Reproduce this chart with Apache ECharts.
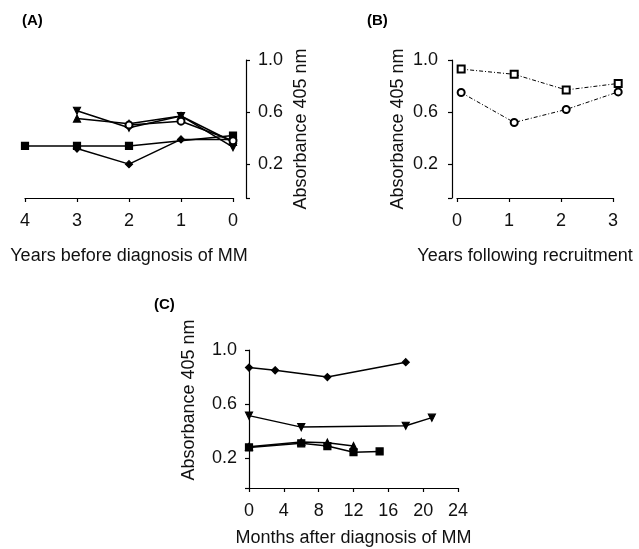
<!DOCTYPE html>
<html><head><meta charset="utf-8">
<script src="https://cdn.jsdelivr.net/npm/echarts@6/dist/echarts.min.js"></script>
<style>html,body{margin:0;padding:0;background:#fff}#c{width:639px;height:549px}</style>
</head><body><div id="c"></div>
<script>
// Panel A: years before diagnosis of MM
const aTicks = [4, 3, 2, 1, 0];
const aSquare   = [[4, 0.34], [3, 0.34], [2, 0.34], [0, 0.42]];
const aDiamond  = [[3, 0.32], [2, 0.20], [1, 0.39], [0, 0.39]];
const aTriUp    = [[3, 0.55], [2, 0.51], [1, 0.57], [0, 0.37]];
const aTriDown  = [[3, 0.61], [2, 0.48], [1, 0.57], [0, 0.33]];
const aCircle   = [[2, 0.50], [1, 0.53], [0, 0.38]];
// Panel B: years following recruitment
const bSquare = [[0.08, 0.93], [1.1, 0.89], [2.1, 0.77], [3.1, 0.82]];
const bCircle = [[0.08, 0.75], [1.1, 0.52], [2.1, 0.62], [3.1, 0.755]];
// Panel C: months after diagnosis of MM
const cDiamond = [[0, 0.87], [3, 0.85], [9, 0.80], [18, 0.91]];
const cTriDown = [[0, 0.515], [6, 0.43], [18, 0.44], [21, 0.50]];
const cSquare  = [[0, 0.28], [6, 0.31], [9, 0.29], [12, 0.245], [15, 0.25]];
const cTriUp   = [[0, 0.285], [6, 0.32], [9, 0.315], [12, 0.29]];
const yLabels = [0.2, 0.6, 1.0];

const FONT = 'Liberation Sans';
const txt = {color: '#111', fontFamily: FONT, fontSize: 18};
const axLine = {show: true, onZero: false, lineStyle: {color: '#000', width: 1.2}};
const tick = {show: true, length: 4, lineStyle: {color: '#000', width: 1.2}};

function yAx(idx, min, extra) {
  return Object.assign({
    type: 'value', gridIndex: idx, min: min, max: 1.0,
    axisLine: axLine, splitLine: {show: false},
    axisTick: Object.assign({}, tick, {customValues: [min].concat(yLabels)}),
    axisLabel: Object.assign({}, txt, {customValues: yLabels, formatter: v => v.toFixed(1), margin: 12}),
    name: 'Absorbance 405 nm', nameLocation: 'middle', nameGap: 46,
    nameTextStyle: Object.assign({}, txt)
  }, extra);
}
function xAx(idx, min, max, interval, name, extra) {
  return Object.assign({
    type: 'value', gridIndex: idx, min: min, max: max, interval: interval,
    axisLine: axLine, splitLine: {show: false},
    axisTick: tick,
    axisLabel: Object.assign({}, txt, {margin: 14}),
    name: name, nameLocation: 'middle', nameGap: 49,
    nameTextStyle: Object.assign({}, txt)
  }, extra);
}
function ser(xi, data, symbol, extra) {
  return Object.assign({
    type: 'line', xAxisIndex: xi, yAxisIndex: xi, data: data,
    symbol: symbol, symbolSize: 7, clip: false, animation: false,
    lineStyle: {color: '#000', width: 1.5},
    itemStyle: {color: '#000', borderColor: '#000', borderWidth: 1.2}
  }, extra);
}
const dashDot = {color: '#000', width: 1, type: [4, 2, 1, 2]};
const hollow = {color: '#000', borderColor: '#000', borderWidth: 1};

const chart = echarts.init(document.getElementById('c'), null, {renderer: 'canvas'});
chart.setOption({
  animation: false,
  backgroundColor: '#fff',
  title: [
    {text: '(A)', left: 17, top: 8, textStyle: {fontFamily: FONT, fontSize: 15, fontWeight: 'bold', color: '#000'}},
    {text: '(B)', left: 362, top: 8, textStyle: {fontFamily: FONT, fontSize: 15, fontWeight: 'bold', color: '#000'}},
    {text: '(C)', left: 149, top: 292, textStyle: {fontFamily: FONT, fontSize: 15, fontWeight: 'bold', color: '#000'}}
  ],
  grid: [
    {left: 25, top: 60, width: 208, height: 138},
    {left: 457, top: 60, width: 156, height: 138},
    {left: 249, top: 350, width: 209, height: 138}
  ],
  xAxis: [
    xAx(0, 0, 4, 1, 'Years before diagnosis of MM', {inverse: true}),
    xAx(1, 0, 3, 1, 'Years following recruitment', {nameTextStyle: Object.assign({}, txt, {padding: [0, 20, 0, 0]})}),
    xAx(2, 0, 24, 4, 'Months after diagnosis of MM', {nameGap: 41})
  ],
  yAxis: [
    yAx(0, -0.06, {position: 'right', offset: 13}),
    yAx(1, -0.06, {offset: 5, nameGap: 45, axisLabel: Object.assign({}, txt, {customValues: yLabels, formatter: v => v.toFixed(1), margin: 14})}),
    yAx(2, -0.02, {nameGap: 51, nameTextStyle: Object.assign({}, txt, {padding: [0, 0, 0, 38]})})
  ],
  series: [
    ser(0, aSquare, 'rect'),
    ser(0, aDiamond, 'diamond'),
    ser(0, aTriUp, 'triangle'),
    ser(0, aTriDown, 'triangle', {symbolRotate: 180}),
    ser(0, aCircle, 'emptyCircle', {itemStyle: hollow}),
    ser(1, bSquare, 'emptyRect', {lineStyle: dashDot, itemStyle: hollow}),
    ser(1, bCircle, 'emptyCircle', {lineStyle: dashDot, itemStyle: hollow}),
    ser(2, cDiamond, 'diamond'),
    ser(2, cTriDown, 'triangle', {symbolRotate: 180}),
    ser(2, cSquare, 'rect'),
    ser(2, cTriUp, 'triangle')
  ]
});
</script></body></html>
